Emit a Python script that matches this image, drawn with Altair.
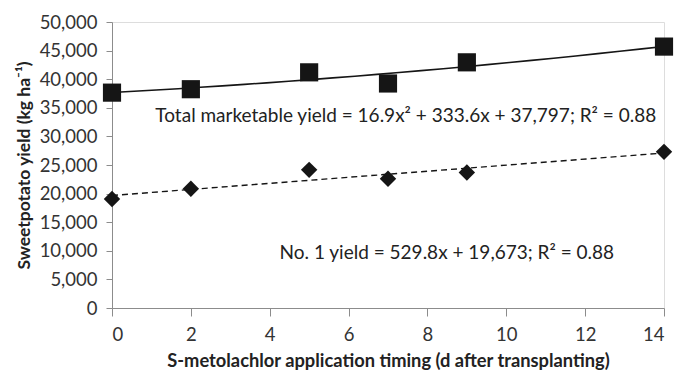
import altair as alt
import pandas as pd

timing = [0, 2, 5, 7, 9, 14]
total_yield = [37650, 38250, 41200, 39250, 42950, 45700]
no1_yield = [19050, 20850, 24150, 22600, 23700, 27300]

ann_text = ["Total marketable yield = 16.9x² + 333.6x + 37,797; R² = 0.88",
            "No. 1 yield = 529.8x + 19,673; R² = 0.88"]
ann_x = [1.1, 4.25]
ann_y = [33600, 9600]

df_total = pd.DataFrame({"x": timing, "y": total_yield})
df_no1 = pd.DataFrame({"x": timing, "y": no1_yield})
df_ann = pd.DataFrame({"x": ann_x, "y": ann_y, "t": ann_text})

FONT = "Lato"
xs = alt.Scale(domain=[0, 14], nice=False)
ys = alt.Scale(domain=[0, 50000], nice=False)

xenc = alt.X("x:Q", scale=xs, axis=alt.Axis(
    values=list(range(0, 15, 2)), grid=False, title="S-metolachlor application timing (d after transplanting)",
    domainColor="#8c8c8c", tickColor="#8c8c8c", tickSize=8, labelFontSize=18.5, labelColor="#333333",
    labelPadding=9, labelOverlap=False, titleFontSize=18.3, titleFontWeight="bold", titleColor="#222222",
    titlePadding=9, labelFont=FONT, titleFont=FONT))
yenc = alt.Y("y:Q", scale=ys, axis=alt.Axis(
    values=list(range(0, 50001, 5000)), format=",d", grid=False, title="Sweetpotato yield (kg ha⁻¹)",
    domainColor="#8c8c8c", tickColor="#8c8c8c", tickSize=6, labelFontSize=18.5, labelColor="#333333",
    labelPadding=9, labelOverlap=False, titleFontSize=17.5, titleFontWeight="bold", titleColor="#222222",
    titlePadding=6, labelFont=FONT, titleFont=FONT))

pts_total = alt.Chart(df_total).mark_point(shape="square", filled=True, size=330, color="#151515", opacity=1).encode(x=xenc, y=yenc)
pts_no1 = alt.Chart(df_no1).mark_point(shape="diamond", filled=True, size=270, color="#151515", opacity=1).encode(x=xenc, y=yenc)

line_total = alt.Chart(df_total).transform_regression("x", "y", method="poly", order=2, extent=[0, 14]).mark_line(
    color="#151515", strokeWidth=1.6).encode(x=xenc, y=yenc)
line_no1 = alt.Chart(df_no1).transform_regression("x", "y", method="linear", extent=[0, 14]).mark_line(
    color="#151515", strokeWidth=1.4, strokeDash=[6, 4]).encode(x=xenc, y=yenc)

ann = alt.Chart(df_ann).mark_text(align="left", baseline="middle", fontSize=19, font=FONT, color="#222222").encode(
    x=xenc, y=yenc, text="t:N")

chart = alt.layer(line_total, line_no1, pts_total, pts_no1, ann).properties(
    width=667, height=362,
    autosize=alt.AutoSizeParams(type="fit", contains="padding"),
    padding={"left": 7, "top": 5, "right": 1, "bottom": 0}
).configure_view(stroke=None).configure_axis(labelOverlap=False).configure(background="white")

chart.save("out.html", embed_options={"renderer": "svg", "actions": False})
